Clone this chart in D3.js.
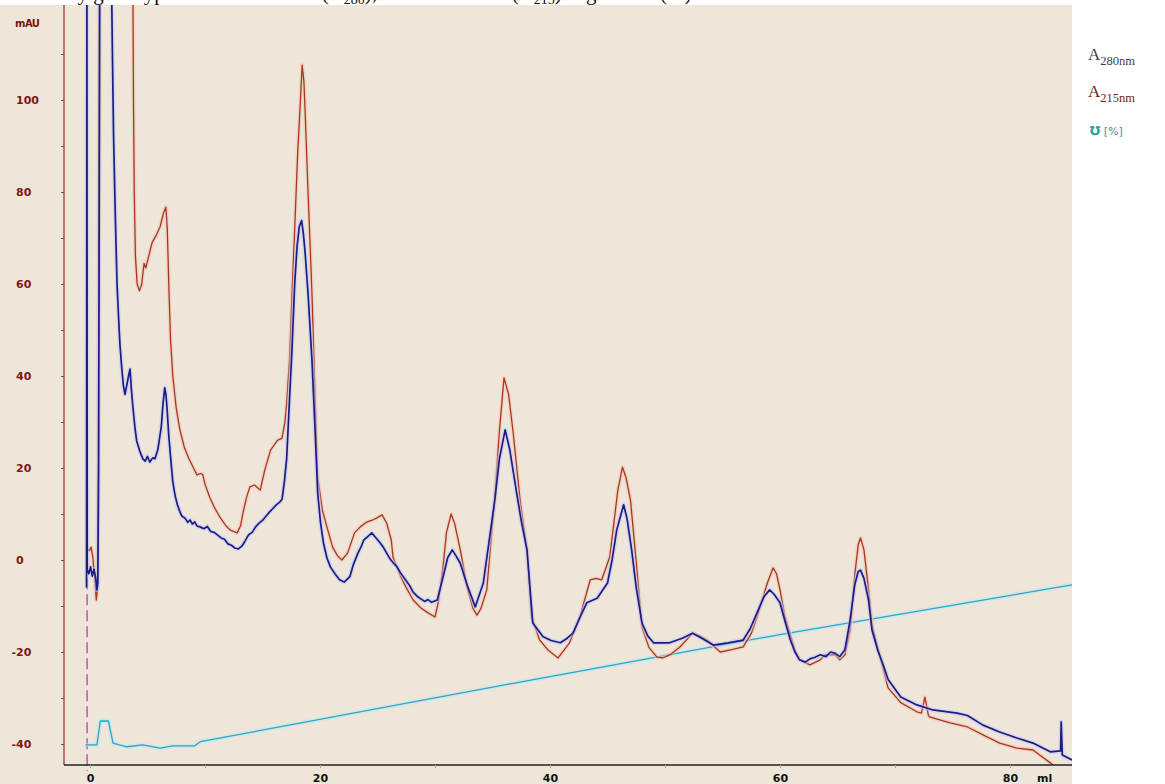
<!DOCTYPE html>
<html><head><meta charset="utf-8">
<script src="https://cdn.jsdelivr.net/npm/d3@7"></script>
<style>body{margin:0;background:#fff;} svg{display:block;}</style>
</head><body>
<svg id="c" width="1165" height="784"></svg>
<script>
// ---- data (ml, mAU) ----
const xTicks = [0,10,20,30,40,50,60,70,80];
const xTickLabels = ["0","","20","","40","","60","","80"];
const yTicks = [-40,-30,-20,-10,0,10,20,30,40,50,60,70,80,90,100,110];
const yTickLabels = {"-40":"-40","-20":"-20","0":"0","20":"20","40":"40","60":"60","80":"80","100":"100"};
const injectionMl = -0.25;

const a280 = [[-0.3,-6],[-0.27,130],[-0.24,-2],[-0.1,-3],[0.05,-1.5],[0.2,-3.5],[0.35,-2],[0.5,-4],[0.6,-6.5],[0.68,-5],[0.75,20],[0.85,130],
[1.85,130],[1.95,110],[2.05,92],[2.2,75],[2.35,60],[2.5,52],[2.6,47],[2.75,42],[2.9,38],[3.04,36],[3.2,38],[3.35,40],[3.48,41.5],[3.6,37],[3.74,33],[3.9,29],[4.05,26],[4.35,23.5],[4.6,22],[4.8,21.5],[5.0,22.5],[5.2,21.3],[5.45,22.2],[5.65,22],[5.9,24],[6.05,26.5],[6.2,29],[6.35,34],[6.5,37.4],[6.6,36],[6.7,33],[6.85,27],[7.04,21.5],[7.2,17],[7.4,14],[7.6,12],[7.83,10.4],[8.0,9.5],[8.26,9.1],[8.5,8.2],[8.7,8.7],[8.9,7.8],[9.1,8.3],[9.3,7.4],[9.57,7.2],[9.9,6.8],[10.2,7.3],[10.5,6.2],[10.8,6.0],[11.1,5.4],[11.4,4.8],[11.7,4.5],[12.0,3.5],[12.3,3.2],[12.6,2.6],[12.9,2.4],[13.2,3.0],[13.5,4.2],[13.8,5.5],[14.1,6.0],[14.4,7.2],[14.7,8.0],[15.0,8.6],[15.3,9.5],[15.6,10.4],[15.9,11.2],[16.2,12.0],[16.5,12.6],[16.7,13.2],[16.9,17],[17.1,22],[17.35,35],[17.55,45],[17.8,60],[18.0,68],[18.2,72.5],[18.4,73.8],[18.55,71],[18.7,67],[18.96,58],[19.3,43.5],[19.56,29],[19.8,14.6],[20.05,8],[20.3,3.7],[20.6,0.5],[20.9,-1.5],[21.3,-3],[21.7,-4.3],[22.1,-4.8],[22.6,-3.6],[22.9,-1.0],[23.3,1.5],[23.6,3.0],[23.8,4.3],[24.2,5.2],[24.5,5.9],[24.8,5.0],[25.2,3.8],[25.5,2.8],[25.8,1.5],[26.1,0.2],[26.4,-0.7],[26.7,-1.5],[27.0,-2.8],[27.4,-4.2],[27.8,-5.6],[28.1,-7.0],[28.5,-8.0],[28.8,-8.5],[29.1,-9.0],[29.4,-8.6],[29.7,-9.2],[30.2,-8.7],[30.7,-3.7],[31.1,0.5],[31.5,2.2],[31.8,1.0],[32.2,-0.7],[32.8,-5.5],[33.5,-10.2],[34.2,-5],[34.7,4],[35.2,13],[35.6,22],[36.1,28.3],[36.5,24],[37.1,14.6],[37.5,8.5],[38.0,2.2],[38.5,-13.7],[39.4,-16.7],[40.1,-17.5],[40.9,-18],[41.5,-17],[42.0,-15.9],[42.6,-12.5],[43.2,-9.3],[44.1,-8.3],[45.0,-5],[45.4,0],[45.8,6.5],[46.4,12],[46.7,9],[47.1,2.2],[47.5,-6],[48.0,-13.7],[48.5,-16.5],[49.0,-18],[50.4,-18],[51.5,-17],[52.4,-15.9],[53.2,-17],[54.2,-18.5],[55.5,-18],[56.8,-17.4],[57.4,-15],[58.0,-11.5],[58.6,-8],[59.1,-6.5],[59.5,-7.5],[60.0,-9.3],
[60.4,-13],[60.9,-17.4],[61.3,-20],[61.7,-21.7],[62.2,-22.2],[62.6,-21.5],[63.0,-21.2],[63.5,-20.6],[64.0,-21],[64.4,-20],[64.8,-20.3],[65.2,-21],[65.65,-19.5],[66.1,-13],[66.5,-5.4],[66.8,-2.5],[67.0,-2.2],[67.3,-4],[67.7,-8.7],[68.0,-15.2],[68.5,-19.6],[69.0,-23],[69.4,-26],[70.5,-29.8],[71.9,-31.5],[73.3,-32.6],[75.4,-33.3],[76.3,-33.8],[77.65,-35.9],[79.1,-37.4],[80.6,-38.7],[82.0,-39.8],[83.5,-41.7],[84.4,-41.5],[84.45,-35.2],[84.55,-42.4],[85.4,-43.5]];

const a215 = [[-0.25,2.5],[-0.05,2.0],[0.1,2.8],[0.25,0.5],[0.4,-4],[0.55,-8.7],[0.65,-6],[0.72,20],[0.82,130],
[3.72,130],[3.78,100],[3.85,80],[3.95,66],[4.1,60],[4.3,58.5],[4.5,60],[4.7,64.5],[4.85,63.5],[5.05,65.5],[5.4,69],[5.8,70.8],[6.1,72.5],[6.4,75.5],[6.6,76.7],[6.72,72],[6.85,60],[7.0,48],[7.2,40],[7.5,33],[7.8,28.5],[8.2,24.5],[8.6,22],[9.0,20],[9.3,18.5],[9.6,18.8],[9.8,18.6],[10.0,16.5],[10.4,13.7],[10.8,11.5],[11.3,9.3],[11.8,7.5],[12.2,6.5],[12.8,5.9],[13.1,7.5],[13.3,10.2],[13.6,13.5],[13.9,15.9],[14.3,16.3],[14.8,15.2],[15.2,19.6],[15.7,23.9],[16.3,26],[16.7,26.5],[16.95,30],[17.1,34],[17.35,43.5],[17.6,60],[17.8,72],[18.05,88],[18.3,100],[18.45,107.6],[18.6,104],[18.7,98],[18.96,80],[19.3,58],[19.56,36.3],[19.8,18],[20.2,10.9],[20.6,7.2],[21.1,2.8],[21.5,1.0],[21.9,0],[22.4,1.5],[23.0,5.9],[23.5,7.2],[24.1,8.3],[24.6,8.7],[25.0,9.2],[25.4,9.8],[25.8,8.0],[26.2,4.3],[26.35,0.6],[27.0,-3.5],[27.5,-6],[28.1,-8.7],[28.8,-10.5],[29.4,-11.5],[30.0,-12.4],[30.3,-9],[30.7,-1.5],[31.0,6],[31.4,10],[31.7,8],[32.2,2.2],[32.8,-6],[33.3,-10.5],[33.65,-12],[34.0,-10.5],[34.5,-6.5],[35.2,13.7],[35.6,28],[36.0,39.6],[36.4,36],[36.8,27.6],[37.4,13],[38.0,2.2],[38.4,-12.4],[39.1,-17.4],[39.8,-19.5],[40.7,-21.3],[41.7,-18],[42.6,-12.4],[43.5,-4.3],[44.0,-4.0],[44.5,-4.3],[45.2,0.7],[45.9,15.2],[46.3,20.2],[46.6,18],[47.0,13],[47.4,2.2],[48.0,-14.6],[48.6,-19],[49.3,-21.1],[49.8,-21.3],[50.5,-20.5],[51.3,-18.9],[52.4,-15.9],[53.0,-16.5],[53.65,-17.4],[54.8,-20],[55.8,-19.5],[56.8,-18.9],[57.5,-16],[58.0,-12.4],[58.9,-5],[59.4,-1.7],[59.7,-3],[60.0,-6.5],
[60.4,-12],[60.9,-16.3],[61.3,-19.6],[61.7,-21.7],[62.6,-22.8],[63.5,-21.7],[63.9,-20.6],[64.8,-20.6],[65.2,-21.7],[65.65,-20.6],[66.1,-15.2],[66.5,-3.3],[66.8,3.3],[67.0,4.8],[67.3,2.2],[67.7,-6.5],[68.0,-14.1],[68.5,-19.1],[69.4,-27.8],[70.5,-31],[71.9,-33],[72.3,-33.3],[72.6,-29.8],[72.9,-33.7],[73.0,-34.1],[74.8,-35.4],[76.3,-36.3],[77.65,-38],[79.1,-39.8],[80.6,-40.9],[82.0,-41.3],[82.9,-43],[83.5,-44.1],[84.2,-45.5]];

// gradient trace, read in the mAU-axis units where it is drawn
const gradient = [[-0.4,-40.2],[0.6,-40.2],[0.9,-35],[1.6,-35],[2.0,-39.8],[3.2,-40.6],[4.6,-40.2],[6.1,-40.9],[7.2,-40.4],[9.1,-40.4],[9.6,-39.5],[36.8,-26.8],[60.0,-16.2],[85.4,-5.4]];

// ---- chart ----
const svg = d3.select("#c");
const x = d3.scaleLinear().domain([0,80]).range([90,1010]);
const y = d3.scaleLinear().domain([-40,100]).range([744,100]);
const L = 64, R = 1072, T = 5, B = 765;

// title (only descenders show above the plot panel)
const tf = "'Liberation Serif', 'Times New Roman', serif";
function titlePart(x0, parts){
  const t = svg.append("text").attr("x",x0).attr("y",-0.5).attr("font-family",tf).attr("font-size",21).attr("fill","#111");
  parts.forEach(p=>{
    const s = t.append("tspan").text(p[0]);
    if(p[1]) s.attr("font-size",14).attr("dy",4); else if(p[2]) s.attr("dy",-4);
  });
}
titlePart(0, [["Elution by gel"]]);
titlePart(138, [["type"]]);
titlePart(222, [["absorbance (A"],["280",1],["),",0,1]]);
titlePart(412, [["absorbance (A"],["215",1],[")",0,1]]);
titlePart(586, [["gradient (%)"]]);

// beige panel
svg.append("rect").attr("x",0).attr("y",T).attr("width",R).attr("height",784-T).attr("fill","#EEE7D9");

svg.append("defs").append("clipPath").attr("id","clip").append("rect")
  .attr("x",L+1).attr("y",T).attr("width",R-L-1).attr("height",B-T);

// injection mark
svg.append("line").attr("x1",x(injectionMl)).attr("x2",x(injectionMl)).attr("y1",y(3)).attr("y2",771)
  .attr("stroke","#D055C8").attr("stroke-width",1.6).attr("stroke-dasharray","11,5");

const line = d3.line().x(d=>x(d[0])).y(d=>y(d[1]));
const g = svg.append("g").attr("clip-path","url(#clip)");
function trace(data, color, halo, w){
  g.append("path").datum(data).attr("d",line).attr("fill","none").attr("stroke",halo).attr("stroke-opacity",0.55).attr("stroke-width",w+3).attr("stroke-linejoin","round");
  g.append("path").datum(data).attr("d",line).attr("fill","none").attr("stroke",color).attr("stroke-width",w).attr("stroke-linejoin","round");
}
trace(gradient, "#2AA6C8", "#BDE6EE", 1.3);
trace(a215, "#A8361E", "#F2C4B4", 1.3);
trace(a280, "#1B1B86", "#C6C8F2", 1.7);

// axes
const yAxis = svg.append("g").attr("transform",`translate(${L},0)`)
  .call(d3.axisLeft(y).tickValues(yTicks).tickSize(3).tickPadding(0).tickFormat(d=>yTickLabels[d]||""));
yAxis.select(".domain").attr("d",`M0,${T}V${B}`).attr("stroke","#B05A48").attr("stroke-width",1.6);
yAxis.selectAll(".tick line").attr("stroke","#6a5a50");
yAxis.selectAll(".tick text").attr("text-anchor","start").attr("x",d=>d<0?-52.5:-48).attr("dy","0.36em")
  .attr("font-family","'DejaVu Sans', sans-serif").attr("font-weight","bold").attr("font-size",11).attr("fill","#7E1616");

const xAxis = svg.append("g").attr("transform",`translate(0,${B})`)
  .call(d3.axisBottom(x).tickValues(xTicks).tickSize(3).tickPadding(0).tickFormat((d,i)=>xTickLabels[i]));
xAxis.select(".domain").attr("d",`M${L},0H${R}`).attr("stroke","#222").attr("stroke-width",1.6);
xAxis.selectAll(".tick line").attr("stroke","#aaa");
xAxis.selectAll(".tick text").attr("y",17).attr("dy",0)
  .attr("font-family","'DejaVu Sans', sans-serif").attr("font-weight","bold").attr("font-size",11).attr("fill","#111");

svg.append("text").attr("x",1037).attr("y",782).attr("font-family","'DejaVu Sans', sans-serif").attr("font-weight","bold").attr("font-size",11).attr("fill","#111").text("ml");
svg.append("text").attr("x",15).attr("y",27).attr("font-family","'DejaVu Sans', sans-serif").attr("font-weight","bold").attr("font-size",10).attr("fill","#7A1414").attr("letter-spacing",-0.5).text("mAU");

// legend
function legendA(yb, sub, color){
  const t = svg.append("text").attr("x",1088).attr("y",yb).attr("font-family",tf).attr("font-size",17).attr("fill",color);
  t.append("tspan").text("A");
  t.append("tspan").attr("font-size",12.5).attr("dy",5).text(sub);
}
legendA(60, "280nm", "#3E3E5C");
legendA(97, "215nm", "#6E1E1E");
svg.append("text").attr("x",1090).attr("y",135).attr("font-family","'DejaVu Sans', sans-serif").attr("font-size",11).attr("fill","#2A9C9C")
  .html('<tspan font-weight="bold" font-size="12">℧</tspan> [%]');
</script>
</body></html>
